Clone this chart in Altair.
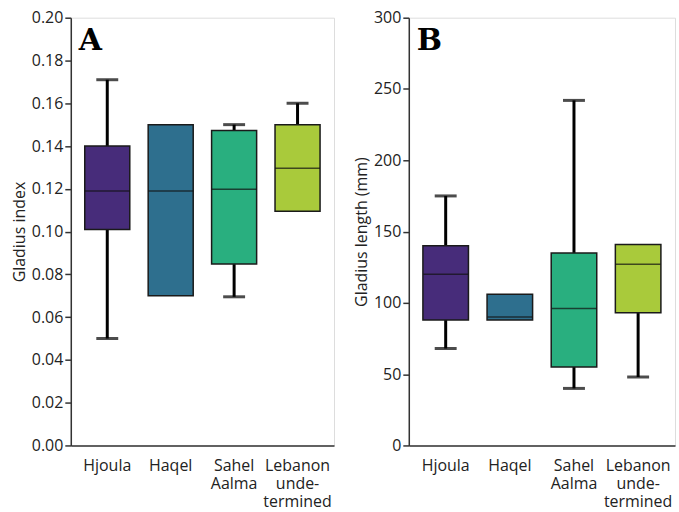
import altair as alt
import pandas as pd

sites = ["Hjoula", "Haqel", "Sahel Aalma", "Lebanon undetermined"]
colors = ["#472C7A", "#2E6F8E", "#29AF7F", "#A9CA3B"]

# Panel A: gladius index
idx_min = [0.050, 0.070, 0.0695, 0.1095]
idx_q1 = [0.101, 0.070, 0.0848, 0.1095]
idx_med = [0.119, 0.119, 0.1198, 0.1296]
idx_q3 = [0.140, 0.150, 0.1473, 0.150]
idx_max = [0.171, 0.150, 0.150, 0.160]

# Panel B: gladius length (mm)
len_min = [68, 88, 40, 48]
len_q1 = [88, 88, 55, 93]
len_med = [120, 90, 96, 127]
len_q3 = [140, 106, 135, 141]
len_max = [175, 106, 242, 141]

FONT = "Open Sans"

label_expr = ("datum.label == 'Sahel Aalma' ? ['Sahel','Aalma'] : "
              "datum.label == 'Lebanon undetermined' ? ['Lebanon','unde-','termined'] : datum.label")


def panel(mins, q1s, meds, q3s, maxs, letter, ytitle, dom, step, fmt, w):
    df = pd.DataFrame({"site": sites, "min": mins, "q1": q1s, "median": meds,
                       "q3": q3s, "max": maxs})
    vals = [round(i * step, 4) for i in range(int(round(dom / step)) + 1)]
    x = alt.X("site:N", sort=sites,
              scale=alt.Scale(paddingInner=0.29, paddingOuter=0.22),
              axis=alt.Axis(title=None, labelAngle=0, ticks=False, labelExpr=label_expr,
                            labelFont=FONT, labelFontSize=16, labelColor="#222",
                            labelPadding=12, labelLineHeight=18, domainColor="#333",
                            domainWidth=1.5))
    ysc = alt.Scale(domain=[0, dom], nice=False, zero=True)
    yax = alt.Axis(title=ytitle, values=vals, format=fmt, grid=False,
                   labelFont=FONT, labelFontSize=16, labelColor="#222",
                   titleFont=FONT, titleFontSize=16, titleFontWeight="normal",
                   titleColor="#222", titlePadding=4, tickSize=6, tickColor="#333",
                   tickWidth=1.5, labelPadding=2, domainColor="#333", domainWidth=1.5)
    base = alt.Chart(df).encode(x=x)
    up = base.transform_filter("datum.max > datum.q3")
    lo = base.transform_filter("datum.min < datum.q1")
    w_up = up.mark_rule(strokeWidth=3, color="black").encode(
        y=alt.Y("q3:Q", scale=ysc, axis=yax), y2="max:Q")
    c_up = up.mark_tick(size=22, thickness=3, color="black").encode(y=alt.Y("max:Q"))
    w_lo = lo.mark_rule(strokeWidth=3, color="black").encode(y=alt.Y("min:Q"), y2="q1:Q")
    c_lo = lo.mark_tick(size=22, thickness=3, color="black").encode(y=alt.Y("min:Q"))
    box = base.mark_bar(stroke="#1a1a1a", strokeWidth=1.5).encode(
        y=alt.Y("q1:Q"), y2="q3:Q",
        color=alt.Color("site:N", scale=alt.Scale(domain=sites, range=colors), legend=None))
    med = base.mark_tick(size=45, thickness=1.5, color="#111").encode(y=alt.Y("median:Q"))
    let = alt.Chart(pd.DataFrame({"t": [letter]})).mark_text(
        font="DejaVu Serif", fontWeight="bold", fontSize=30, align="left",
        baseline="alphabetic", color="black").encode(
        x=alt.value(8), y=alt.value(32), text="t:N")
    return alt.layer(w_up, c_up, w_lo, c_lo, box, med, let).properties(width=w, height=429)


a = panel(idx_min, idx_q1, idx_med, idx_q3, idx_max, "A", "Gladius index", 0.2, 0.02, ".2f", 264)
b = panel(len_min, len_q1, len_med, len_q3, len_max, "B", "Gladius length (mm)", 300, 50, "d", 267)

chart = alt.hconcat(a, b, spacing=18).properties(
    padding={"left": 10, "top": 8, "right": 3, "bottom": 2}
).configure_view(stroke="#333", strokeWidth=1.5).configure(background="white")

chart.save("out.html", embed_options={"renderer": "svg", "actions": False})
